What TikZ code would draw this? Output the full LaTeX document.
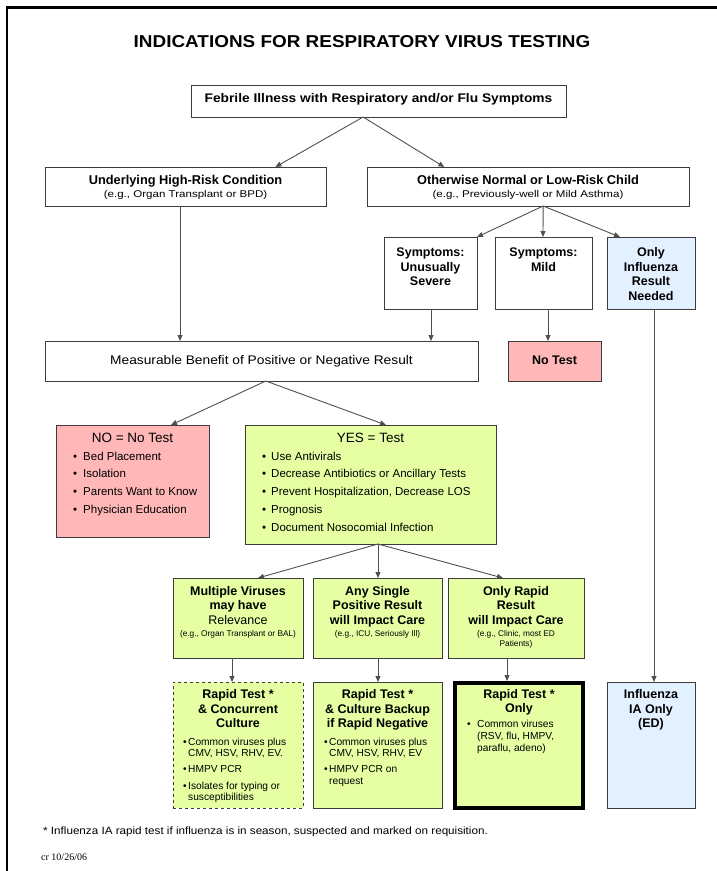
\documentclass[tikz,border=0pt]{standalone}
\usepackage{fontspec}
\setmainfont{Liberation Sans}
\newfontfamily\serifcr{Liberation Serif}
\newfontfamily\wide[FakeStretch=1.1]{Liberation Sans}
\newfontfamily\wider[FakeStretch=1.18]{Liberation Sans}
\usetikzlibrary{arrows.meta,calc}
\definecolor{pinkfill}{RGB}{255,183,183}
\definecolor{greenfill}{RGB}{230,255,163}
\definecolor{bluefill}{RGB}{227,240,255}
\definecolor{edge}{RGB}{60,60,60}
\definecolor{conn}{RGB}{80,80,80}
\tikzset{
  box/.style={draw=edge, line width=1pt, anchor=north west, inner sep=0pt, outer sep=0pt},
  arr/.style={draw=conn, line width=0.9pt, -{Triangle[length=6pt,width=5pt]}},
  hd/.style={anchor=base, inner sep=0pt, font=\fontsize{12.5}{14}\selectfont\bfseries},
  sub/.style={anchor=base, inner sep=0pt, font=\wider\fontsize{9.8}{11}\selectfont},
  lsub/.style={anchor=base, inner sep=0pt, font=\fontsize{8.3}{10}\selectfont},
  bl/.style={anchor=base west, inner sep=0pt, font=\fontsize{11.5}{13}\selectfont},
  sm/.style={anchor=base west, inner sep=0pt, font=\fontsize{10.2}{12}\selectfont},
}
\newcommand{\bx}[6]{\node[box,#6,minimum width=#4-#2,minimum height=#5-#3] (#1) at (#2,#3) {};}
\begin{document}
\begin{tikzpicture}[x=1pt,y=-1pt]
\useasboundingbox (0,0) rectangle (717,871);
\draw[line width=2.5pt] (717,7.5) -- (7,7.5) -- (7,871);
\node[anchor=base,inner sep=0pt,font=\wide\fontsize{17.2}{19}\selectfont\bfseries] (title) at (362,47.5) {INDICATIONS FOR RESPIRATORY VIRUS TESTING};
% x helper coordinates
\foreach \xx in {171,180,232,258,378,386,431,503,507,543,548,620,654}{\coordinate (x\xx) at (\xx,0);}

% row 1
\bx{feb}{191}{85}{566}{117}{}
\node[hd,font=\wide\fontsize{12.5}{14}\selectfont\bfseries] (febt) at (378.5,102.5) {Febrile Illness with Respiratory and/or Flu Symptoms};
% row 2
\bx{und}{45}{167}{326}{206}{}
\node[hd,font=\fontsize{12.8}{14}\selectfont\bfseries] (undt) at (185.5,184.5) {Underlying High-Risk Condition};
\node[sub] (unds) at (185.5,197.5) {(e.g., Organ Transplant or BPD)};
\bx{oth}{367}{167}{689}{206}{}
\node[hd,font=\fontsize{12.8}{14}\selectfont\bfseries] (otht) at (528,184.5) {Otherwise Normal or Low-Risk Child};
\node[sub] (oths) at (528,197.5) {(e.g., Previously-well or Mild Asthma)};
% row 3
\bx{sev}{384}{237}{477}{309}{}
\node[hd] (sev1) at (430.5,256.5) {Symptoms:};
\node[hd] (sev2) at (430.5,271) {Unusually};
\node[hd] (sev3) at (430.5,285.5) {Severe};
\bx{mild}{495}{237}{592}{309}{}
\node[hd] (mil1) at (543.5,256.5) {Symptoms:};
\node[hd] (mil2) at (543.5,271) {Mild};
\bx{onl}{607}{237}{695}{309}{fill=bluefill}
\node[hd] (onl1) at (651,256.5) {Only};
\node[hd] (onl2) at (651,271) {Influenza};
\node[hd] (onl3) at (651,285.5) {Result};
\node[hd] (onl4) at (651,300) {Needed};
% row 4
\bx{meas}{45}{341}{478}{381}{}
\node[hd,font=\wide\fontsize{12.5}{14}\selectfont] (meast) at (261.5,364.5) {Measurable Benefit of Positive or Negative Result};
\bx{notest}{508}{341}{601}{381}{fill=pinkfill}
\node[hd] (notestt) at (554.5,364.5) {No Test};
% row 5
\bx{no}{56}{425}{209}{537}{fill=pinkfill}
\node[anchor=base,inner sep=0pt,font=\fontsize{13.5}{15}\selectfont] (not) at (132.5,442) {NO = No Test};
\node[bl] (nob1) at (73,460) {•};\node[bl] (no1) at (83,460) {Bed Placement};
\node[bl] (nob2) at (73,477.5) {•};\node[bl] (no2) at (83,477.5) {Isolation};
\node[bl] (nob3) at (73,495.5) {•};\node[bl] (no3) at (83,495.5) {Parents Want to Know};
\node[bl] (nob4) at (73,513) {•};\node[bl] (no4) at (83,513) {Physician Education};
\bx{yes}{245}{425}{496}{544}{fill=greenfill}
\node[anchor=base,inner sep=0pt,font=\fontsize{13.5}{15}\selectfont] (yest) at (370.5,442) {YES = Test};
\node[bl] (yb1) at (262,460) {•};\node[bl] (y1) at (271,460) {Use Antivirals};
\node[bl] (yb2) at (262,477.5) {•};\node[bl] (y2) at (271,477.5) {Decrease Antibiotics or Ancillary Tests};
\node[bl] (yb3) at (262,495.5) {•};\node[bl] (y3) at (271,495.5) {Prevent Hospitalization, Decrease LOS};
\node[bl] (yb4) at (262,513) {•};\node[bl] (y4) at (271,513) {Prognosis};
\node[bl] (yb5) at (262,531) {•};\node[bl] (y5) at (271,531) {Document Nosocomial Infection};
% row 6
\bx{mul}{173}{578}{303}{658}{fill=greenfill}
\node[hd] (mul1) at (238,595.5) {Multiple Viruses};
\node[hd] (mul2) at (238,609.5) {may have};
\node[hd,font=\fontsize{12.5}{14}\selectfont] (mul3) at (238,624.5) {Relevance};
\node[lsub] (mul4) at (238,636) {(e.g., Organ Transplant or BAL)};
\bx{any}{313}{578}{442}{658}{fill=greenfill}
\node[hd] (any1) at (377.5,595.5) {Any Single};
\node[hd] (any2) at (377.5,609.5) {Positive Result};
\node[hd] (any3) at (377.5,624.5) {will Impact Care};
\node[lsub] (any4) at (377.5,636) {(e.g., ICU, Seriously Ill)};
\bx{rap}{448}{578}{584}{658}{fill=greenfill}
\node[hd] (rap1) at (516,595.5) {Only Rapid};
\node[hd] (rap2) at (516,609.5) {Result};
\node[hd] (rap3) at (516,624.5) {will Impact Care};
\node[lsub] (rap4) at (516,636) {(e.g., Clinic, most ED};
\node[lsub] (rap5) at (516,646) {Patients)};
% row 7
\bx{conc}{173}{682}{303}{808}{fill=greenfill,dashed}
\node[hd] (con1) at (238,698.5) {Rapid Test *};
\node[hd] (con2) at (238,713.5) {\& Concurrent};
\node[hd] (con3) at (238,727.5) {Culture};
\node[sm] (conb1) at (183,745.5) {•};\node[sm] (conl1) at (188,745.5) {Common viruses plus};
\node[sm] (conl2) at (188,756.5) {CMV, HSV, RHV, EV.};
\node[sm] (conb2) at (183,772.5) {•};\node[sm] (conl3) at (188,772.5) {HMPV PCR};
\node[sm] (conb3) at (183,789.5) {•};\node[sm] (conl4) at (188,789.5) {Isolates for typing or};
\node[sm] (conl5) at (188,800.5) {susceptibilities};
\bx{back}{313}{682}{442}{808}{fill=greenfill}
\node[hd] (bac1) at (377.5,698.5) {Rapid Test *};
\node[hd] (bac2) at (377.5,713.5) {\& Culture Backup};
\node[hd] (bac3) at (377.5,727.5) {if Rapid Negative};
\node[sm] (bacb1) at (324,745.5) {•};\node[sm] (bacl1) at (329,745.5) {Common viruses plus};
\node[sm] (bacl2) at (329,756.5) {CMV, HSV, RHV, EV};
\node[sm] (bacb2) at (324,772.5) {•};\node[sm] (bacl3) at (329,772.5) {HMPV PCR on};
\node[sm] (bacl4) at (329,784.5) {request};
\bx{only}{455}{683}{583}{808}{fill=greenfill,draw=black,line width=4pt}
\node[hd] (onr1) at (519,698.5) {Rapid Test *};
\node[hd] (onr2) at (519,712.5) {Only};
\node[sm] (onrb) at (467,727.5) {•};\node[sm] (onrl1) at (477,727.5) {Common viruses};
\node[sm] (onrl2) at (477,739.5) {(RSV, flu, HMPV,};
\node[sm] (onrl3) at (477,751.5) {paraflu, adeno)};
\bx{ia}{607}{682}{695}{808}{fill=bluefill}
\node[hd] (ia1) at (651,698.5) {Influenza};
\node[hd] (ia2) at (651,713.5) {IA Only};
\node[hd] (ia3) at (651,727.5) {(ED)};
% footnote
\node[anchor=base west,inner sep=0pt,font=\wide\fontsize{10.6}{12}\selectfont] (foot) at (43,834.5) {* Influenza IA rapid test if influenza is in season, suspected and marked on requisition.};
\node[anchor=base west,inner sep=0pt,font=\serifcr\fontsize{10}{12}\selectfont] (cr) at (41,860) {cr 10/26/06};

% connectors
\coordinate (febs) at ($(feb.south west)!0.459!(feb.south east)$);
\coordinate (othb) at ($(oth.south west)!0.547!(oth.south east)$);
\coordinate (meass) at ($(meas.south west)!0.51!(meas.south east)$);
\draw[arr] (febs) -- ($(und.north west)!0.82!(und.north east)$);
\draw[arr] (febs) -- ($(oth.north west)!0.24!(oth.north east)$);
\draw[arr] (und.south -| x180) -- (meas.north -| x180);
\draw[arr] (othb) -- (sev.north east);
\draw[arr] (othb) -- (mild.north -| x543);
\draw[arr] (othb) -- (onl.north -| x620);
\draw[arr] (sev.south -| x431) -- (meas.north -| x431);
\draw[arr] (mild.south -| x548) -- (notest.north -| x548);
\draw[arr] (onl.south -| x654) -- (ia.north -| x654);
\draw[arr] (meass) -- (no.north -| x171);
\draw[arr] (meass) -- (yes.north -| x386);
\draw[arr] (yes.south -| x378) -- (mul.north -| x258);
\draw[arr] (yes.south -| x378) -- (any.north -| x378);
\draw[arr] (yes.south -| x378) -- (rap.north -| x503);
\draw[arr] (mul.south -| x232) -- (conc.north -| x232);
\draw[arr] (any.south -| x378) -- (back.north -| x378);
\draw[arr] (rap.south -| x507) -- ($(only.north -| x507)+(0,-2)$);
\end{tikzpicture}
\end{document}
